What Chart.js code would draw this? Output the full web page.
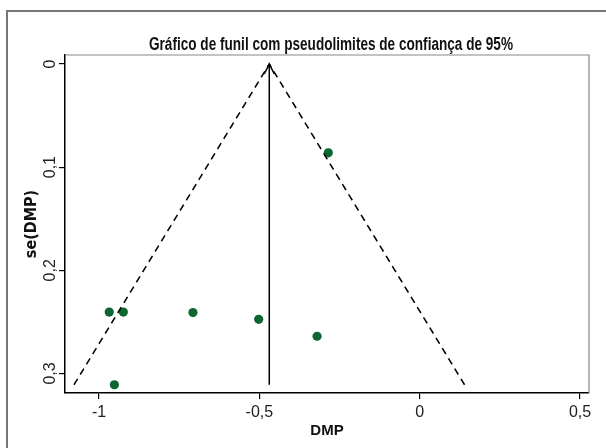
<!DOCTYPE html>
<html>
<head>
<meta charset="utf-8">
<script src="https://cdn.jsdelivr.net/npm/chart.js@4/dist/chart.umd.min.js"></script>
<style>
  html, body { margin: 0; padding: 0; background: #fff; }
  #wrap { position: relative; width: 606px; height: 448px; overflow: hidden; }
  #frame { position: absolute; left: 6px; top: 10px; width: 640px; height: 480px; border: 2px solid #777; }
  #funnel { position: absolute; left: 0; top: 0; }
</style>
</head>
<body>
<div id="wrap">
  <div id="frame"></div>
  <canvas id="funnel" width="606" height="448"></canvas>
</div>
<script>
// estudos (DMP e erro padrão)
const studyDMP = [-0.968, -0.924, -0.707, -0.502, -0.320, -0.285, -0.952];
const studySE  = [0.2405, 0.2405, 0.241, 0.2476, 0.264, 0.0861, 0.311];

// linhas do funil (efeito combinado e pseudolimites de 95%)
const funnelSE    = [0.311, 0];
const pooledDMP   = [-0.469, -0.469];
const lowerLimit  = [-1.078, -0.469];
const upperLimit  = [0.140, -0.469];

// eixos
const xTicks = [-1, -0.5, 0, 0.5];
const yTicks = [0, 0.1, 0.2, 0.3];

const chartTitle = 'Gráfico de funil com pseudolimites de confiança de 95%';

const fmt = function(v) { return String(v).replace('.', ','); };
const toPts = function(xs, ys) { return xs.map(function(x, i) { return { x: x, y: ys[i] }; }); };

const cond = "'DejaVu Sans Condensed', 'DejaVu Sans', sans-serif";
const plain = "'Liberation Sans', Arial, sans-serif";

// título (estreito), cabeça da seta e moldura cinza do gráfico
const extras = {
  id: 'extras',
  afterDatasetsDraw: function(chart) {
    const ctx = chart.ctx;
    const a = chart.chartArea;
    ctx.save();
    ctx.strokeStyle = '#888';
    ctx.lineWidth = 1.2;
    ctx.beginPath();
    ctx.moveTo(a.left, a.top);
    ctx.lineTo(a.right, a.top);
    ctx.lineTo(a.right, a.bottom);
    ctx.stroke();

    const meta = chart.getDatasetMeta(0);
    const tip = meta.data[meta.data.length - 1];
    ctx.strokeStyle = '#000';
    ctx.lineWidth = 1.5;
    ctx.beginPath();
    ctx.moveTo(tip.x - 5, tip.y + 10);
    ctx.lineTo(tip.x, tip.y);
    ctx.lineTo(tip.x + 5, tip.y + 10);
    ctx.stroke();

    // título em letra condensada, centrado sobre a área do gráfico
    ctx.font = 'bold 17.5px ' + plain;
    ctx.fillStyle = '#111';
    ctx.textAlign = 'center';
    ctx.textBaseline = 'alphabetic';
    const w = ctx.measureText(chartTitle).width;
    const sx = 364 / w;
    ctx.translate((a.left + a.right) / 2 + 4, a.top - 5);
    ctx.scale(sx, 1);
    ctx.fillText(chartTitle, 0, 0);
    ctx.restore();
  }
};

const ctx = document.getElementById('funnel').getContext('2d');
const chart = new Chart(ctx, {
  type: 'scatter',
  data: {
    datasets: [
      {
        type: 'line',
        data: toPts(pooledDMP, funnelSE),
        borderColor: '#000',
        borderWidth: 1.5,
        pointRadius: 0,
        fill: false
      },
      {
        type: 'line',
        data: toPts(lowerLimit, funnelSE),
        borderColor: '#000',
        borderWidth: 1.5,
        borderDash: [7, 5],
        pointRadius: 0,
        fill: false
      },
      {
        type: 'line',
        data: toPts(upperLimit, funnelSE),
        borderColor: '#000',
        borderWidth: 1.5,
        borderDash: [7, 5],
        pointRadius: 0,
        fill: false
      },
      {
        data: toPts(studyDMP, studySE),
        backgroundColor: '#0b6630',
        borderColor: '#0b6630',
        pointRadius: 4.6,
        borderWidth: 0
      }
    ]
  },
  options: {
    responsive: false,
    animation: false,
    layout: { padding: { left: 0, right: 17, top: 55, bottom: 0 } },
    plugins: {
      legend: { display: false },
      tooltip: { enabled: false },
      title: { display: false }
    },
    scales: {
      x: {
        type: 'linear',
        min: -1.106,
        max: 0.528,
        afterBuildTicks: function(s) { s.ticks = xTicks.map(function(v) { return { value: v }; }); },
        afterFit: function(s) { s.height = 55; },
        border: { color: '#000', width: 1.5 },
        grid: { drawOnChartArea: false, drawTicks: true, tickLength: 6, color: '#000', lineWidth: 1.2 },
        ticks: {
          color: '#222',
          padding: 4,
          font: { family: plain, size: 16 },
          callback: function(v) { return fmt(v); }
        },
        title: {
          display: true,
          text: 'DMP',
          color: '#111',
          font: { family: plain, size: 15, weight: 'bold' },
          padding: { top: 0, bottom: 8 }
        }
      },
      y: {
        type: 'linear',
        reverse: true,
        min: -0.0087,
        max: 0.319,
        afterBuildTicks: function(s) { s.ticks = yTicks.map(function(v) { return { value: v }; }); },
        afterFit: function(s) { s.width = 65; },
        border: { color: '#000', width: 1.5 },
        grid: { drawOnChartArea: false, drawTicks: true, tickLength: 6, color: '#000', lineWidth: 1.2 },
        ticks: {
          color: '#222',
          padding: -3,
          minRotation: 90,
          maxRotation: 90,
          crossAlign: 'center',
          font: { family: plain, size: 16 },
          callback: function(v) { return fmt(v); }
        },
        title: {
          display: true,
          text: 'se(DMP)',
          color: '#111',
          font: { family: cond, size: 16, weight: 'bold' },
          padding: { top: 22, bottom: 0 }
        }
      }
    }
  },
  plugins: [extras]
});
</script>
</body>
</html>
